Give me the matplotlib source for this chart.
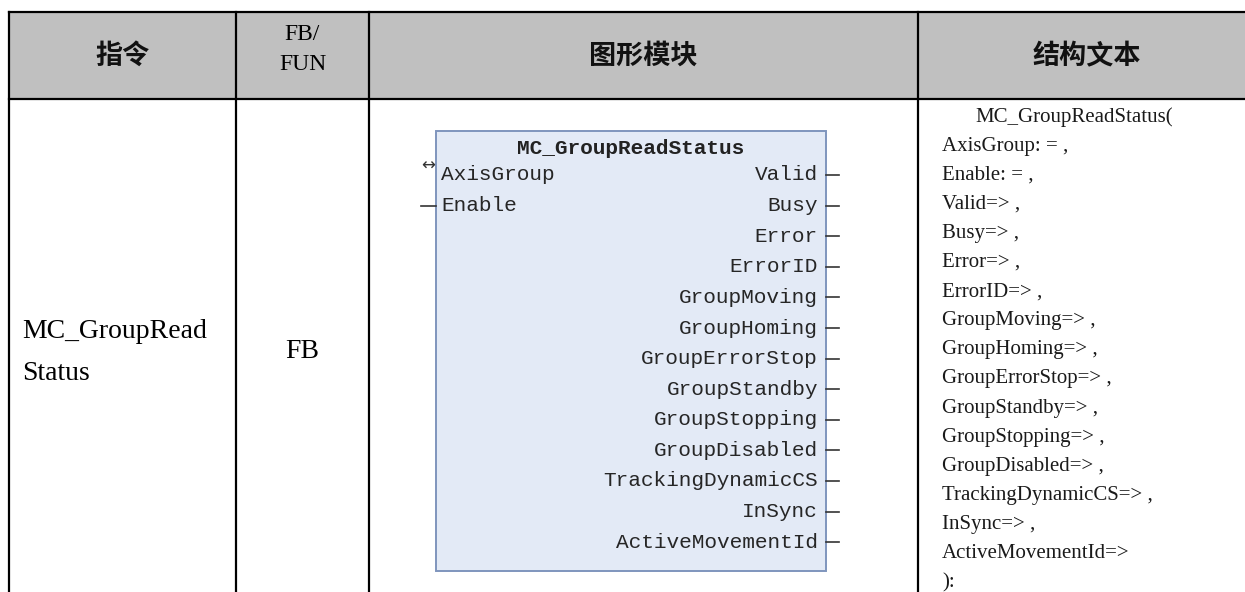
import matplotlib
matplotlib.use('Agg')
import matplotlib.pyplot as plt
from matplotlib.patches import Rectangle

plt.rcParams['font.family'] = ['Noto Sans CJK SC', 'DejaVu Sans']

# Table content
headers = ['指令', 'FB/\nFUN', '图形模块', '结构文本']
instr_lines = ['MC_GroupRead', 'Status']
fb_type = 'FB'
block_name = 'MC_GroupReadStatus'
inputs = ['AxisGroup', 'Enable']
outputs = ['Valid', 'Busy', 'Error', 'ErrorID', 'GroupMoving', 'GroupHoming',
           'GroupErrorStop', 'GroupStandby', 'GroupStopping', 'GroupDisabled',
           'TrackingDynamicCS', 'InSync', 'ActiveMovementId']
st_lines = ['MC_GroupReadStatus(', 'AxisGroup: = ,', 'Enable: = ,'] + \
           [o + '=> ,' for o in outputs[:-1]] + [outputs[-1] + '=>', '):']

# Layout (pixels)
W, H = 1245, 592
col_x = [9, 236, 369, 918, 1256]
top_y, head_y = 12, 99

fig = plt.figure(figsize=(W / 100, H / 100), dpi=100)
ax = fig.add_axes([0, 0, 1, 1])
ax.set_xlim(0, W)
ax.set_ylim(H, 0)
ax.axis('off')

# header background
ax.add_patch(Rectangle((col_x[0], top_y), col_x[-1] - col_x[0], head_y - top_y,
                       facecolor='#c0c0c0', edgecolor='none'))

# grid lines
lw = 1.6
ax.plot([col_x[0], col_x[-1]], [top_y, top_y], color='black', lw=lw)
ax.plot([col_x[0], col_x[-1]], [head_y, head_y], color='black', lw=lw)
for x in col_x[:-1]:
    ax.plot([x, x], [top_y, H + 5], color='black', lw=lw)

# header texts
for i, h in enumerate(headers):
    cx = (col_x[i] + col_x[i + 1]) / 2
    if i == 1:
        top, bot = h.split('\n')
        ax.text(cx, 34, top, ha='center', va='center', fontsize=17,
                family='Liberation Serif', color='black')
        ax.text(cx, 64, bot, ha='center', va='center', fontsize=17,
                family='Liberation Serif', color='black')
    else:
        ax.text(cx, 56, h, ha='center', va='center', fontsize=19.5,
                weight='bold', color='#111111')

# body: instruction name and type
for j, t in enumerate(instr_lines):
    ax.text(22, 331 + j * 43, t, ha='left', va='center', fontsize=20,
            family='Liberation Serif', color='black')
ax.text((col_x[1] + col_x[2]) / 2, 352, fb_type, ha='center', va='center',
        fontsize=20, family='Liberation Serif', color='black')

# function block graphic
bx0, by0, bx1, by1 = 436, 131, 826, 571
ax.add_patch(Rectangle((bx0, by0), bx1 - bx0, by1 - by0, facecolor='#e3eaf6',
                       edgecolor='#7f95bd', lw=1.4))
ax.text((bx0 + bx1) / 2, 148, block_name, ha='center', va='center',
        fontsize=15.2, family='Liberation Mono', weight='bold', color='#222222')
pin_y0, pin_dy = 175, 30.6
txt_col = '#262626'
for k, name in enumerate(inputs):
    y = pin_y0 + k * pin_dy
    ax.text(441, y, name, ha='left', va='center', fontsize=15.2,
            family='Liberation Mono', color=txt_col)
    if k == 0:
        ax.text(428, y - 9, '↔', ha='center', va='center', fontsize=12,
                family='DejaVu Sans', color='#333333')
    else:
        ax.plot([421, bx0], [y, y], color='#333333', lw=1.2)
for k, name in enumerate(outputs):
    y = pin_y0 + k * pin_dy
    ax.text(818, y, name, ha='right', va='center', fontsize=15.2,
            family='Liberation Mono', color=txt_col)
    ax.plot([bx1, 839], [y, y], color='#333333', lw=1.2)

# structured text column
st_y0, st_dy = 117, 29.1
for k, line in enumerate(st_lines):
    x = 975 if k == 0 else 942
    ax.text(x, st_y0 + k * st_dy, line, ha='left', va='center', fontsize=15,
            family='Liberation Serif', color='#1a1a1a')

fig.savefig('out.png', dpi=100)
